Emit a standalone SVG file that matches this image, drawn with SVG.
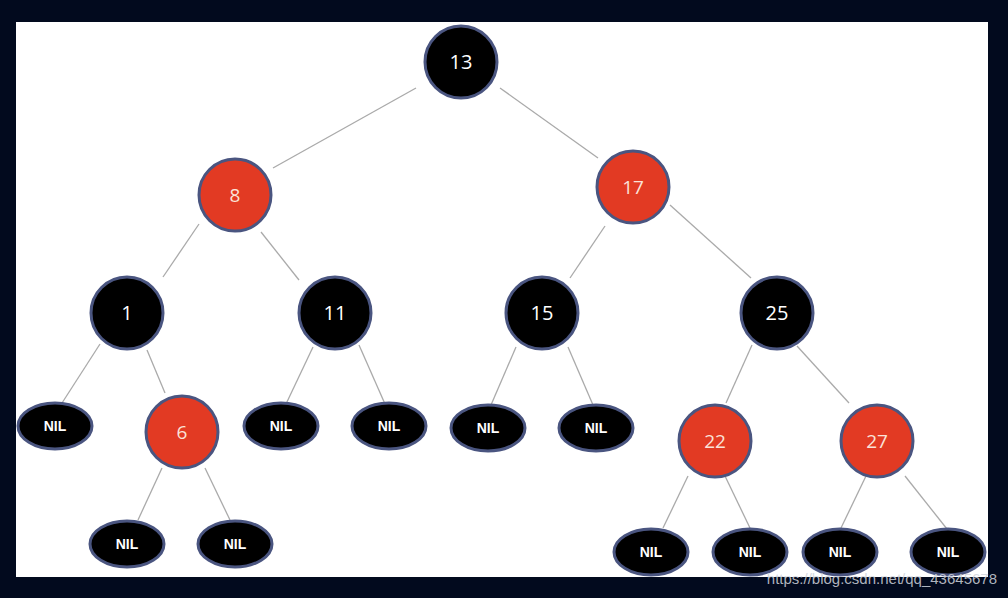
<svg xmlns="http://www.w3.org/2000/svg" width="1008" height="598" viewBox="0 0 1008 598">
<style>
.b{fill:#000;stroke:#4a5580;stroke-width:3}
.r{fill:#e23a23;stroke:#4a5580;stroke-width:3}
.n{fill:#000;stroke:#4a5580;stroke-width:3}
.t{font-family:"Open Sans","Liberation Sans",sans-serif;font-size:20px;fill:#fff;text-anchor:middle}
.tr{font-family:"Open Sans","Liberation Sans",sans-serif;font-size:19px;fill:#fbe2d8;text-anchor:middle}
.tn{font-family:"Liberation Sans",sans-serif;font-size:14px;font-weight:bold;fill:#fff;text-anchor:middle}
#edges line{stroke:#aaa;stroke-width:1.3}
</style>
<rect width="1008" height="598" fill="#020a1e"/>
<rect x="16" y="22" width="972" height="555" fill="#fff"/>
<g id="edges">
<line x1="416" y1="88" x2="273" y2="168"/><line x1="500" y1="88" x2="598" y2="158"/>
<line x1="199" y1="224" x2="163" y2="277"/><line x1="261" y1="232" x2="299" y2="280"/>
<line x1="605" y1="226" x2="570" y2="278"/><line x1="670" y1="205" x2="751" y2="278"/>
<line x1="100" y1="344" x2="62" y2="403"/><line x1="147" y1="350" x2="165" y2="393"/>
<line x1="313" y1="347" x2="286" y2="404"/><line x1="359" y1="345" x2="385" y2="404"/>
<line x1="516" y1="347" x2="491" y2="405"/><line x1="568" y1="347" x2="593" y2="405"/>
<line x1="752" y1="345" x2="726" y2="403"/><line x1="797" y1="346" x2="849" y2="403"/>
<line x1="162" y1="468" x2="138" y2="520"/><line x1="205" y1="468" x2="230" y2="520"/>
<line x1="688" y1="476" x2="663" y2="528"/><line x1="725" y1="476" x2="750" y2="528"/>
<line x1="866" y1="476" x2="841" y2="528"/><line x1="905" y1="476" x2="947" y2="529"/>
</g>
<g id="n13"><circle class="b" cx="461" cy="62" r="36"/><text class="t" x="461" y="69">13</text></g>
<g id="n8"><circle class="r" cx="235" cy="195" r="36"/><text class="tr" x="235" y="202">8</text></g>
<g id="n17"><circle class="r" cx="633" cy="187" r="36"/><text class="tr" x="633" y="194">17</text></g>
<g id="n1"><circle class="b" cx="127" cy="313" r="36"/><text class="t" x="127" y="320">1</text></g>
<g id="n11"><circle class="b" cx="335" cy="313" r="36"/><text class="t" x="335" y="320">11</text></g>
<g id="n15"><circle class="b" cx="542" cy="313" r="36"/><text class="t" x="542" y="320">15</text></g>
<g id="n25"><circle class="b" cx="777" cy="313" r="36"/><text class="t" x="777" y="320">25</text></g>
<g id="n6"><circle class="r" cx="182" cy="432" r="36"/><text class="tr" x="182" y="439">6</text></g>
<g id="n22"><circle class="r" cx="715" cy="441" r="36"/><text class="tr" x="715" y="448">22</text></g>
<g id="n27"><circle class="r" cx="877" cy="441" r="36"/><text class="tr" x="877" y="448">27</text></g>
<g id="nil1"><ellipse class="n" cx="55" cy="426" rx="37" ry="23"/><text class="tn" x="55" y="431">NIL</text></g>
<g id="nil2"><ellipse class="n" cx="281" cy="426" rx="37" ry="23"/><text class="tn" x="281" y="431">NIL</text></g>
<g id="nil3"><ellipse class="n" cx="389" cy="426" rx="37" ry="23"/><text class="tn" x="389" y="431">NIL</text></g>
<g id="nil4"><ellipse class="n" cx="488" cy="428" rx="37" ry="23"/><text class="tn" x="488" y="433">NIL</text></g>
<g id="nil5"><ellipse class="n" cx="596" cy="428" rx="37" ry="23"/><text class="tn" x="596" y="433">NIL</text></g>
<g id="nil6"><ellipse class="n" cx="127" cy="544" rx="37" ry="23"/><text class="tn" x="127" y="549">NIL</text></g>
<g id="nil7"><ellipse class="n" cx="235" cy="544" rx="37" ry="23"/><text class="tn" x="235" y="549">NIL</text></g>
<g id="nil8"><ellipse class="n" cx="651" cy="552" rx="37" ry="23"/><text class="tn" x="651" y="557">NIL</text></g>
<g id="nil9"><ellipse class="n" cx="750" cy="552" rx="37" ry="23"/><text class="tn" x="750" y="557">NIL</text></g>
<g id="nil10"><ellipse class="n" cx="840" cy="552" rx="37" ry="23"/><text class="tn" x="840" y="557">NIL</text></g>
<g id="nil11"><ellipse class="n" cx="948" cy="552" rx="37" ry="23"/><text class="tn" x="948" y="557">NIL</text></g>
<text x="997" y="584" font-family="Liberation Sans,sans-serif" font-size="15" fill="#d0d4dc" fill-opacity="0.85" text-anchor="end">https://blog.csdn.net/qq_43645678</text>
</svg>
